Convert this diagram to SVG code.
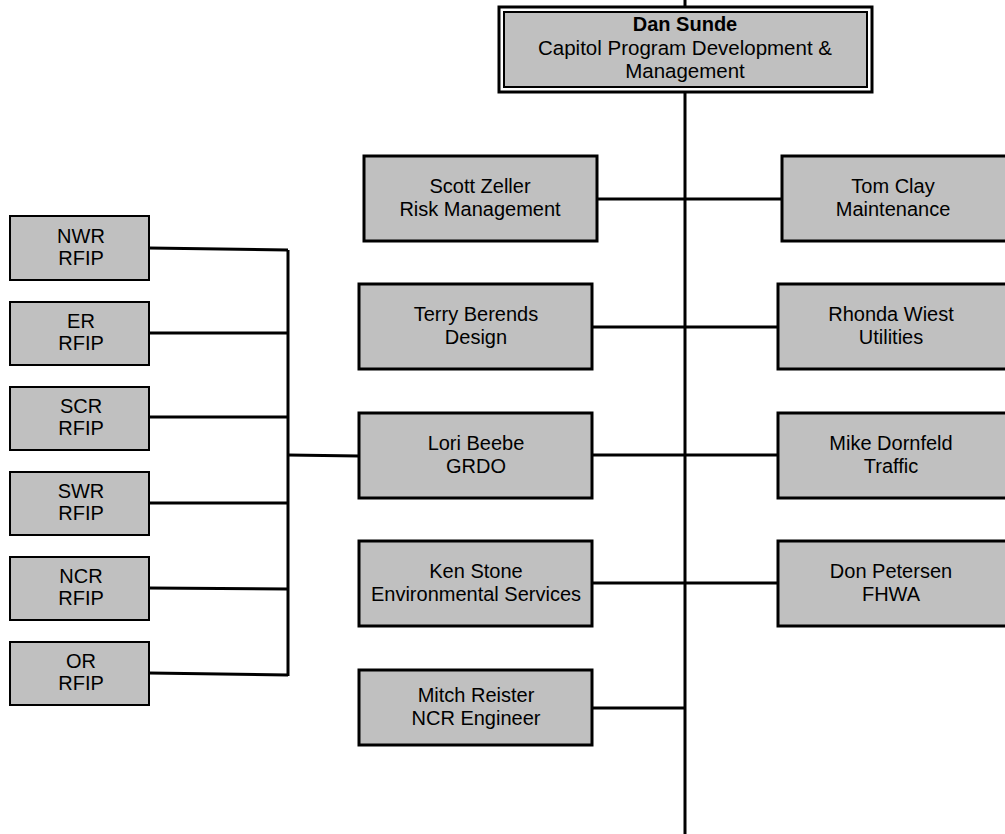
<svg xmlns="http://www.w3.org/2000/svg" width="1005" height="834" viewBox="0 0 1005 834">
<style>
.box{fill:#c0c0c0;stroke:#000;stroke-width:3}
.sbox{fill:#c0c0c0;stroke:#000;stroke-width:2}
.t{font-family:"Liberation Sans",Arial,sans-serif;font-size:20px;fill:#000;text-anchor:middle}
.tb{font-weight:bold}
.c{stroke:#000;stroke-width:3;fill:none}
</style>
<rect width="1005" height="834" fill="#fff"/>
<g id="connectors">
<line class="c" x1="685" y1="0" x2="685" y2="834"/>
<line class="c" x1="597" y1="199" x2="782" y2="199"/>
<line class="c" x1="592" y1="327" x2="778" y2="327"/>
<line class="c" x1="592" y1="455" x2="778" y2="455"/>
<line class="c" x1="592" y1="583" x2="778" y2="583"/>
<line class="c" x1="592" y1="708" x2="685" y2="708"/>
<line class="c" x1="288" y1="250" x2="288" y2="676"/>
<line class="c" x1="149" y1="248" x2="288" y2="250"/>
<line class="c" x1="149" y1="333" x2="288" y2="333"/>
<line class="c" x1="149" y1="417" x2="288" y2="417"/>
<line class="c" x1="149" y1="503" x2="288" y2="503"/>
<line class="c" x1="149" y1="588" x2="288" y2="589"/>
<line class="c" x1="149" y1="673" x2="288" y2="675"/>
<line class="c" x1="288" y1="455" x2="359" y2="456"/>
</g>
<g id="dan">
<rect x="499" y="7" width="373" height="85" fill="#fff" stroke="#000" stroke-width="3"/>
<rect x="504" y="12" width="363" height="75" class="sbox"/>
<text class="t tb" x="685" y="31">Dan Sunde</text>
<text class="t" x="685" y="55" style="font-size:20.5px">Capitol Program Development &amp;</text>
<text class="t" x="685" y="78" style="font-size:20.5px">Management</text>
</g>
<g id="scott">
<rect class="box" x="364" y="156" width="233" height="85"/>
<text class="t" x="480" y="193">Scott Zeller</text>
<text class="t" x="480" y="216">Risk Management</text>
</g>
<g id="terry">
<rect class="box" x="359" y="284" width="233" height="85"/>
<text class="t" x="476" y="321">Terry Berends</text>
<text class="t" x="476" y="344">Design</text>
</g>
<g id="lori">
<rect class="box" x="359" y="413" width="233" height="85"/>
<text class="t" x="476" y="450">Lori Beebe</text>
<text class="t" x="476" y="473">GRDO</text>
</g>
<g id="ken">
<rect class="box" x="359" y="541" width="233" height="85"/>
<text class="t" x="476" y="578">Ken Stone</text>
<text class="t" x="476" y="601">Environmental Services</text>
</g>
<g id="mitch">
<rect class="box" x="359" y="670" width="233" height="75"/>
<text class="t" x="476" y="702">Mitch Reister</text>
<text class="t" x="476" y="725">NCR Engineer</text>
</g>
<g id="tom">
<rect class="box" x="782" y="156" width="240" height="85"/>
<text class="t" x="893" y="193">Tom Clay</text>
<text class="t" x="893" y="216">Maintenance</text>
</g>
<g id="rhonda">
<rect class="box" x="778" y="284" width="244" height="85"/>
<text class="t" x="891" y="321">Rhonda Wiest</text>
<text class="t" x="891" y="344">Utilities</text>
</g>
<g id="mike">
<rect class="box" x="778" y="413" width="244" height="85"/>
<text class="t" x="891" y="450">Mike Dornfeld</text>
<text class="t" x="891" y="473">Traffic</text>
</g>
<g id="don">
<rect class="box" x="778" y="541" width="244" height="85"/>
<text class="t" x="891" y="578">Don Petersen</text>
<text class="t" x="891" y="601">FHWA</text>
</g>
<g id="nwr">
<rect class="sbox" x="10" y="216" width="139" height="64"/>
<text class="t" x="81" y="243">NWR</text>
<text class="t" x="81" y="265">RFIP</text>
</g>
<g id="er">
<rect class="sbox" x="10" y="302" width="139" height="63"/>
<text class="t" x="81" y="328">ER</text>
<text class="t" x="81" y="350">RFIP</text>
</g>
<g id="scr">
<rect class="sbox" x="10" y="387" width="139" height="63"/>
<text class="t" x="81" y="413">SCR</text>
<text class="t" x="81" y="435">RFIP</text>
</g>
<g id="swr">
<rect class="sbox" x="10" y="472" width="139" height="63"/>
<text class="t" x="81" y="498">SWR</text>
<text class="t" x="81" y="520">RFIP</text>
</g>
<g id="ncr">
<rect class="sbox" x="10" y="557" width="139" height="63"/>
<text class="t" x="81" y="583">NCR</text>
<text class="t" x="81" y="605">RFIP</text>
</g>
<g id="or">
<rect class="sbox" x="10" y="642" width="139" height="63"/>
<text class="t" x="81" y="668">OR</text>
<text class="t" x="81" y="690">RFIP</text>
</g>
</svg>
